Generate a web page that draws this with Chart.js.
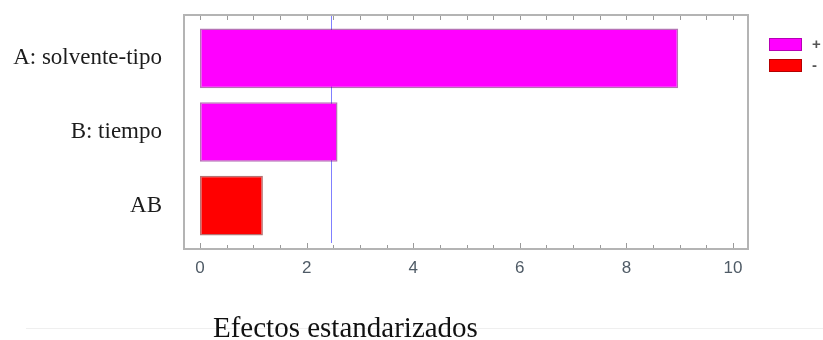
<!DOCTYPE html>
<html>
<head>
<meta charset="utf-8">
<script src="https://cdn.jsdelivr.net/npm/chart.js@4/dist/chart.umd.min.js"></script>
<style>
  html, body { margin: 0; padding: 0; background: #ffffff; }
  #wrap { width: 823px; height: 340px; }
</style>
</head>
<body>
<div id="wrap"><canvas id="pareto" width="823" height="340"></canvas></div>
<script>
// Standardized effects (sign kept; bar length is the absolute value)
const categories = ['A: solvente-tipo', 'B: tiempo', 'AB'];
const effects = [8.97, 2.58, -1.18];
const criticalValue = 2.45;
const xTickValues = [0, 2, 4, 6, 8, 10];
const legendLabels = ['+', '-'];
const axisTitle = 'Efectos estandarizados';

const POS_COLOR = '#ff00ff';
const NEG_COLOR = '#ff0000';
const POS_EDGE = 'rgba(120,0,120,0.55)';
const NEG_EDGE = 'rgba(120,0,0,0.55)';

const barPoints = effects.map((v, i) => ({ x: Math.abs(v), y: i }));
const barFill = effects.map(v => v >= 0 ? POS_COLOR : NEG_COLOR);
const barEdge = effects.map(v => v >= 0 ? POS_EDGE : NEG_EDGE);

// Frame, inward tick marks, reference line, legend and title
const decorations = {
  id: 'decorations',
  beforeDatasetsDraw(chart) {
    const { ctx, chartArea: a, scales: { x } } = chart;
    ctx.save();
    // reference line at the critical value
    const cx = Math.round(x.getPixelForValue(criticalValue)) + 0.5;
    ctx.strokeStyle = '#8080ff';
    ctx.lineWidth = 1;
    ctx.beginPath();
    ctx.moveTo(cx, a.top);
    ctx.lineTo(cx, a.bottom - 6);
    ctx.stroke();
    ctx.restore();
  },
  afterDatasetsDraw(chart) {
    const { ctx, chartArea: a, scales: { x } } = chart;
    ctx.save();
    // plot frame
    ctx.strokeStyle = '#b4b4b4';
    ctx.lineWidth = 2;
    ctx.strokeRect(a.left, a.top, a.right - a.left, a.bottom - a.top);

    // tick marks every 0.5, pointing into the plot
    ctx.strokeStyle = '#9a9a9a';
    ctx.lineWidth = 1;
    for (let k = 0; k <= 20; k++) {
      const v = k / 2;
      const px = Math.round(x.getPixelForValue(v)) + 0.5;
      const major = xTickValues.includes(v);
      ctx.beginPath();
      ctx.moveTo(px, a.top + 1);
      ctx.lineTo(px, a.top + 5);
      ctx.moveTo(px, a.bottom - 1);
      ctx.lineTo(px, a.bottom - (major ? 6 : 4));
      ctx.stroke();
    }

    // legend
    const swatches = [POS_COLOR, NEG_COLOR];
    const edges = [POS_EDGE, NEG_EDGE];
    ctx.font = 'bold 15px "Liberation Sans", Arial, sans-serif';
    ctx.textBaseline = 'middle';
    ctx.textAlign = 'left';
    swatches.forEach((c, i) => {
      const top = 38 + i * 21;
      ctx.fillStyle = c;
      ctx.fillRect(769, top, 33, 13);
      ctx.strokeStyle = edges[i];
      ctx.lineWidth = 1;
      ctx.strokeRect(769.5, top + 0.5, 32, 12);
      ctx.fillStyle = '#555555';
      ctx.fillText(legendLabels[i], 812, top + 6.5);
    });

    // faint page rule and axis title
    ctx.strokeStyle = '#efefef';
    ctx.lineWidth = 1;
    ctx.beginPath();
    ctx.moveTo(26, 328.5);
    ctx.lineTo(823, 328.5);
    ctx.stroke();

    ctx.fillStyle = '#111111';
    ctx.font = '29px "Liberation Serif", "Times New Roman", serif';
    ctx.textBaseline = 'alphabetic';
    ctx.fillText(axisTitle, 213, 337);
    ctx.restore();
  }
};

new Chart(document.getElementById('pareto'), {
  type: 'bar',
  data: {
    datasets: [{
      label: 'Efectos',
      data: barPoints,
      backgroundColor: barFill,
      borderColor: barEdge,
      borderWidth: 1.5,
      borderSkipped: false,
      barPercentage: 0.81,
      categoryPercentage: 1.0
    }]
  },
  options: {
    indexAxis: 'y',
    responsive: false,
    animation: false,
    devicePixelRatio: 1,
    layout: { padding: { top: 15, right: 75, bottom: 0, left: 0 } },
    plugins: {
      legend: { display: false },
      tooltip: { enabled: false }
    },
    scales: {
      x: {
        type: 'linear',
        min: -0.3,
        max: 10.28,
        afterBuildTicks: s => { s.ticks = xTickValues.map(v => ({ value: v })); },
        afterFit: s => { s.height = 91; },
        grid: { display: false, drawTicks: false },
        border: { display: false },
        ticks: {
          padding: 9,
          color: '#4f5b66',
          font: { family: '"Liberation Sans", Arial, sans-serif', size: 17 },
          maxRotation: 0
        }
      },
      y: {
        type: 'linear',
        offset: false,
        reverse: true,
        min: -0.59,
        max: 2.59,
        afterBuildTicks: s => { s.ticks = categories.map((_, i) => ({ value: i })); },
        afterFit: s => { s.width = 184; s.paddingTop = 0; s.paddingBottom = 0; },
        grid: { display: false, drawTicks: false, offset: false },
        border: { display: false },
        ticks: {
          padding: 22,
          color: '#1c1c1c',
          font: { family: '"Liberation Serif", "Times New Roman", serif', size: 23 },
          callback: v => categories[v] ?? ''
        }
      }
    }
  },
  plugins: [decorations]
});
</script>
</body>
</html>
